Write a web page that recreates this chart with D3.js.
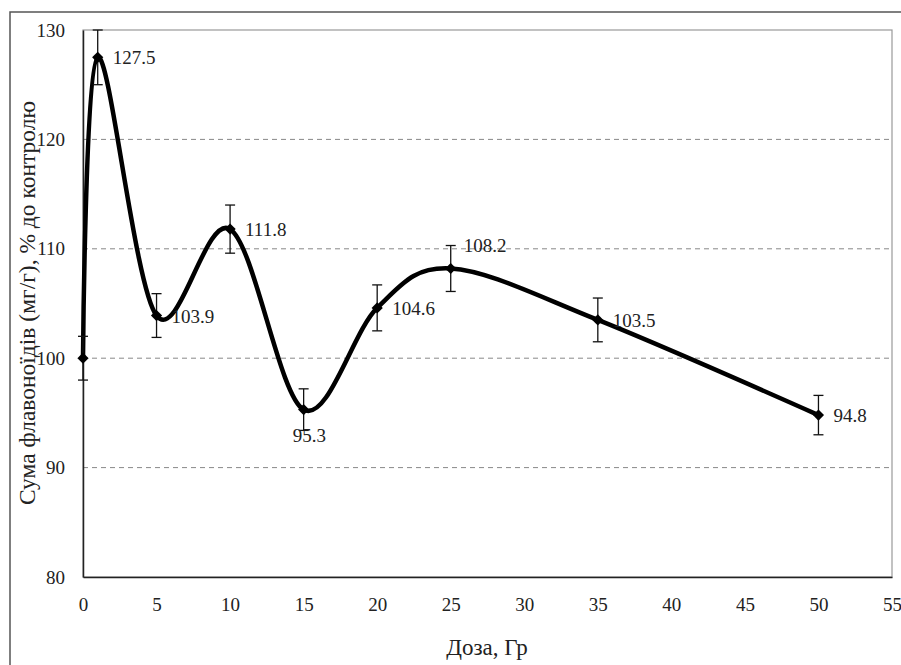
<!DOCTYPE html>
<html><head><meta charset="utf-8">
<script src="https://cdn.jsdelivr.net/npm/d3@7"></script>
<style>body{margin:0;background:#fff}svg{display:block}</style>
</head><body>
<script>
const doses = [0, 1, 5, 10, 15, 20, 25, 35, 50];
const values = [100, 127.5, 103.9, 111.8, 95.3, 104.6, 108.2, 103.5, 94.8];
const errors = [2.0, 2.5, 2.0, 2.2, 1.9, 2.1, 2.1, 2.0, 1.8];
const labelPos = ["none", "right", "right", "right", "below", "right", "above", "right", "right"];
const xTicks = [0, 5, 10, 15, 20, 25, 30, 35, 40, 45, 50, 55];
const yTicks = [80, 90, 100, 110, 120, 130];
const gridValues = [90, 100, 110, 120];

const FONT = '"Liberation Serif", Tinos, "Times New Roman", Times, "DejaVu Serif", serif';
const W = 901, H = 665;
const svg = d3.select("body").append("svg").attr("width", W).attr("height", H)
  .attr("font-family", FONT);
svg.append("rect").attr("x", 10).attr("y", 12).attr("width", 900).attr("height", 670)
  .attr("fill", "none").attr("stroke", "#555").attr("stroke-width", 1.5);

const L = 83, R = 892, T = 30, B = 577;
const x = d3.scaleLinear().domain([0, 55]).range([L, R]);
const y = d3.scaleLinear().domain([80, 130]).range([B, T]);

// plot frame
svg.append("rect").attr("x", L).attr("y", T).attr("width", R - L).attr("height", B - T)
  .attr("fill", "none").attr("stroke", "#999").attr("stroke-width", 1.2);

// grid
svg.append("g").selectAll("line").data(gridValues).join("line")
  .attr("x1", L).attr("x2", R).attr("y1", d => y(d)).attr("y2", d => y(d))
  .attr("stroke", "#888").attr("stroke-width", 1).attr("stroke-dasharray", "5,4");

// axes
const xAxis = svg.append("g").attr("transform", `translate(0,${B})`)
  .call(d3.axisBottom(x).tickValues(xTicks).tickSize(0).tickPadding(21));
const yAxis = svg.append("g").attr("transform", `translate(${L},0)`)
  .call(d3.axisLeft(y).tickValues(yTicks).tickSize(0).tickPadding(18));
[xAxis, yAxis].forEach(a => {
  a.attr("font-family", FONT).attr("font-size", 19);
  a.select(".domain").attr("stroke", "#222").attr("stroke-width", 1.5);
  a.selectAll("text").attr("fill", "#222");
});

svg.append("text").attr("x", 487).attr("y", 655).attr("text-anchor", "middle")
  .attr("font-size", 23).attr("fill", "#222").text("Доза, Гр");
svg.append("text").attr("transform", `translate(35,303) rotate(-90)`).attr("text-anchor", "middle")
  .attr("font-size", 23.5).attr("fill", "#222").text("Сума флавоноїдів (мг/г), % до контролю");

const data = doses.map((d, i) => ({ d, v: values[i], e: errors[i], lp: labelPos[i] }));

// line
const line = d3.line().x(d => x(d.d)).y(d => y(d.v)).curve(d3.curveCardinal.tension(0));
svg.append("path").datum(data).attr("d", line).attr("fill", "none")
  .attr("stroke", "#000").attr("stroke-width", 4.5).attr("stroke-linejoin", "round");

// error bars
const eb = svg.append("g").attr("stroke", "#111").attr("stroke-width", 1.3);
data.forEach(p => {
  const cx = x(p.d), y1 = y(Math.min(130, p.v + p.e)), y2 = y(p.v - p.e);
  eb.append("line").attr("x1", cx).attr("x2", cx).attr("y1", y1).attr("y2", y2);
  eb.append("line").attr("x1", cx - 5).attr("x2", cx + 5).attr("y1", y1).attr("y2", y1);
  eb.append("line").attr("x1", cx - 5).attr("x2", cx + 5).attr("y1", y2).attr("y2", y2);
});

// markers
svg.append("g").selectAll("path").data(data).join("path")
  .attr("transform", d => `translate(${x(d.d)},${y(d.v)})`)
  .attr("d", d3.symbol().type(d3.symbolDiamond2).size(80)).attr("fill", "#000");

// labels
svg.append("g").selectAll("text").data(data.filter(d => d.lp !== "none")).join("text")
  .attr("x", d => d.lp === "right" ? x(d.d) + 15 : d.lp === "below" ? x(d.d) - 11 : x(d.d) + 13)
  .attr("y", d => d.lp === "right" ? y(d.v) + 7 : d.lp === "below" ? y(d.v) + 32 : y(d.v) - 16)
  .attr("font-size", 19).attr("fill", "#222")
  .text(d => d3.format(".1f")(d.v));
</script>
</body></html>
